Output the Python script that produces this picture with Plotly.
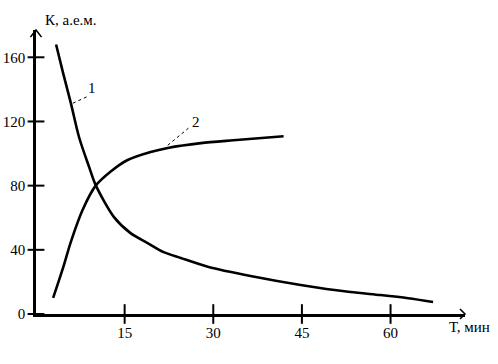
import plotly.graph_objects as go

# Curve 1 (decreasing)
t1 = [3.4, 4.6, 5.9, 7.3, 9.0, 10.1, 13.2, 16.0, 18.9, 21.6, 24.5, 29.2, 36.3, 44.8, 53.2, 58.3, 63.0, 67.2]
k1 = [168, 150, 131.4, 110, 91.5, 80.3, 60.4, 50.4, 44.2, 38.6, 34.9, 29.3, 23.7, 18.1, 13.7, 11.8, 9.8, 7.5]
# Curve 2 (increasing)
t2 = [2.9, 4.6, 5.9, 7.9, 10.1, 12.7, 15.5, 19.4, 22.3, 27.9, 33.4, 41.9]
k2 = [10, 29, 45, 65, 80, 89, 96, 101, 103.5, 106.5, 108.3, 110.8]

x_ticks = [15, 30, 45, 60]
y_ticks = [0, 40, 80, 120, 160]
x_title = "Т, мин"
y_title = "К, а.е.м."

labels = ["1", "2"]
label_pos = [(9.4, 140.7), (27.1, 119.5)]
leader_from = [(6.25, 131.4), (22.3, 105.2)]
leader_to = [(8.8, 135.7), (25.8, 115.8)]

FONT = "Liberation Serif, Times New Roman, serif"
fig = go.Figure()
line_style = dict(color="black", width=2.6, shape="spline", smoothing=0.8)
fig.add_trace(go.Scatter(x=t1, y=k1, mode="lines", line=line_style, hoverinfo="skip"))
fig.add_trace(go.Scatter(x=t2, y=k2, mode="lines", line=line_style, hoverinfo="skip"))

for (x0, y0), (x1, y1) in zip(leader_from, leader_to):
    fig.add_trace(go.Scatter(x=[x0, x1], y=[y0, y1], mode="lines",
                             line=dict(color="black", width=1, dash="dot"), hoverinfo="skip"))
for txt, (x, y) in zip(labels, label_pos):
    fig.add_annotation(x=x, y=y, text=txt, showarrow=False,
                       font=dict(family=FONT, size=15, color="black"))

fig.add_trace(go.Scatter(x=[0] * len(y_ticks), y=y_ticks, mode="markers", cliponaxis=False,
                         marker=dict(symbol="line-ew", size=12, line=dict(color="black", width=2)),
                         hoverinfo="skip"))
fig.add_trace(go.Scatter(x=x_ticks, y=[0] * len(x_ticks), mode="markers", cliponaxis=False,
                         marker=dict(symbol="line-ns", size=14, line=dict(color="black", width=2)),
                         hoverinfo="skip"))

W, H = 498, 364
ml, mr, mt, mb = 36, 33, 30, 50
pw, ph = W - ml - mr, H - mt - mb

dx, dy = 5.5 / pw, 7 / ph
fig.add_shape(type="path", xref="x domain", yref="y domain",
              path=f"M {-dx} {1 - dy} L 0 1 L {dx} {1 - dy}",
              line=dict(color="black", width=1.5))
ax_, ay_ = 5 / pw, 5 / ph
fig.add_shape(type="path", xref="x domain", yref="y domain",
              path=f"M {1 - ax_} {ay_} L 1 0 L {1 - ax_} {-ay_}",
              line=dict(color="black", width=1.5))

fig.add_annotation(xref="paper", yref="paper", x=(43 - 36) / pw, y=1 + (30 - 20) / ph,
                   text=y_title, showarrow=False, xanchor="left", yanchor="middle",
                   font=dict(family=FONT, size=15, color="black"))
fig.add_annotation(xref="paper", yref="paper", x=(447 - 36) / pw, y=-(327 - 314) / ph,
                   text=x_title, showarrow=False, xanchor="left", yanchor="middle",
                   font=dict(family=FONT, size=15, color="black"))

fig.update_layout(
    width=W, height=H, margin=dict(l=ml, r=mr, t=mt, b=mb, autoexpand=False),
    paper_bgcolor="white", plot_bgcolor="white", showlegend=False,
    font=dict(family=FONT, size=15, color="black"),
    xaxis=dict(range=[0, 72.6], showgrid=False, zeroline=False, showline=True, automargin=False,
               linecolor="black", linewidth=2.5, tickvals=x_ticks, ticks="",
               ticklabelstandoff=3, tickfont=dict(family=FONT, size=15)),
    yaxis=dict(range=[0, 177], showgrid=False, zeroline=False, showline=True, automargin=False,
               linecolor="black", linewidth=2.5, tickvals=y_ticks, ticks="",
               ticklabelstandoff=5, tickfont=dict(family=FONT, size=15)),
)
fig.write_html("out.html", config={"displayModeBar": False},
               post_script="document.body.style.margin='0';document.body.style.overflow='hidden';")
